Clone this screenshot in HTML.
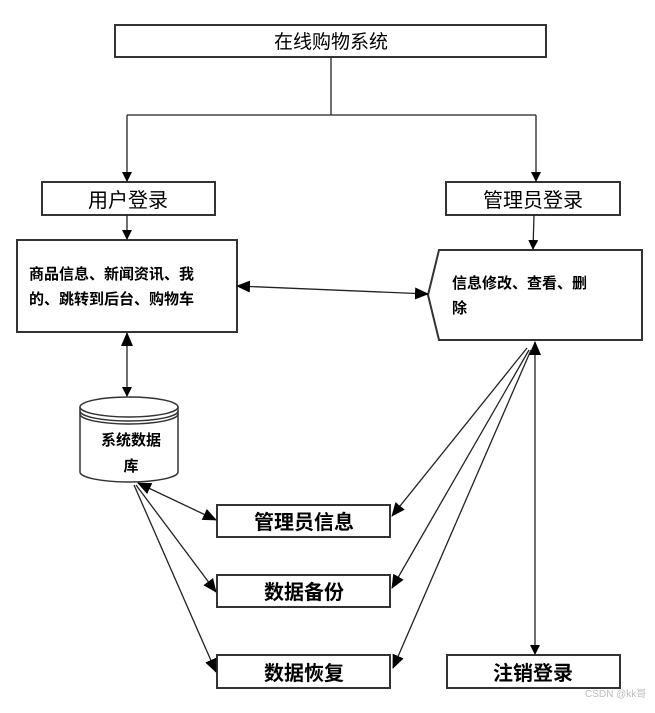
<!DOCTYPE html>
<html><head><meta charset="utf-8"><style>
body{margin:0;background:#fff}
svg text{font-family:"Liberation Sans","Noto Sans CJK SC",sans-serif;fill:#000}
</style></head><body>
<svg width="655" height="708" viewBox="0 0 655 708" xmlns="http://www.w3.org/2000/svg">
<defs>
<marker id="a" markerWidth="10" markerHeight="10" refX="9" refY="5" orient="auto-start-reverse" markerUnits="userSpaceOnUse"><path d="M0,0 L10,5 L0,10 z" fill="#000"/></marker>
<marker id="b" markerWidth="14" markerHeight="12" refX="13" refY="6" orient="auto-start-reverse" markerUnits="userSpaceOnUse"><path d="M0,0 L14,6 L0,12 z" fill="#000"/></marker>
</defs>
<g fill="#fff" stroke="#333" stroke-width="2">
<rect x="115" y="25" width="431" height="32"/>
<rect x="42" y="182" width="173" height="33"/>
<rect x="446" y="182" width="174" height="33"/>
<rect x="17" y="240" width="220" height="92"/>
<path d="M439,250 L642,250 L642,340 L439,340 L428,295 Z"/>
<rect x="217" y="505" width="173" height="32"/>
<rect x="217" y="575" width="173" height="32"/>
<rect x="217" y="655" width="173" height="33"/>
<rect x="447" y="655" width="173" height="33"/>
</g>
<g fill="#fff" stroke="#333" stroke-width="1.5">
<path d="M80,407 L80,472 A49,10 0 0 0 178,472 L178,407"/>
<ellipse cx="129" cy="407" rx="49" ry="10"/>
<path d="M80,411 A49,10 0 0 0 178,411" fill="none"/>
<path d="M80,414 A49,10 0 0 0 178,414" fill="none"/>
</g>
<g stroke="#222" stroke-width="1.3" fill="none">
<path d="M331,57 V115 M127,115 H536"/>
<line x1="127" y1="115" x2="127" y2="181" marker-end="url(#a)"/>
<line x1="536" y1="115" x2="536" y2="181" marker-end="url(#a)"/>
<line x1="127" y1="215" x2="127" y2="239" marker-end="url(#a)"/>
<line x1="534" y1="215" x2="533" y2="249" marker-end="url(#a)"/>
<line x1="237" y1="286" x2="428" y2="294" marker-start="url(#b)" marker-end="url(#b)"/>
<line x1="127" y1="333" x2="127" y2="396" marker-start="url(#b)" marker-end="url(#a)"/>
<line x1="535" y1="342" x2="535" y2="654" marker-start="url(#b)" marker-end="url(#a)"/>
<line x1="527" y1="348" x2="392" y2="516" marker-end="url(#b)"/>
<line x1="529" y1="350" x2="392" y2="588" marker-end="url(#b)"/>
<line x1="531" y1="350" x2="393" y2="668" marker-end="url(#b)"/>
<line x1="138" y1="483" x2="216" y2="520" marker-start="url(#b)" marker-end="url(#b)"/>
<line x1="136" y1="485" x2="216" y2="592" marker-end="url(#b)"/>
<line x1="134" y1="485" x2="216" y2="672" marker-end="url(#b)"/>
</g>
<text x="331" y="48" font-size="19" text-anchor="middle">在线购物系统</text>
<text x="128" y="207" font-size="20" text-anchor="middle">用户登录</text>
<text x="533" y="207" font-size="20" text-anchor="middle">管理员登录</text>
<text x="29" y="279" font-size="15" font-weight="bold">商品信息、新闻资讯、我</text>
<text x="29" y="304" font-size="15" font-weight="bold">的、跳转到后台、购物车</text>
<text x="452" y="288" font-size="15" font-weight="bold">信息修改、查看、删</text>
<text x="452" y="313" font-size="15" font-weight="bold">除</text>
<text x="131" y="445" font-size="15" font-weight="bold" text-anchor="middle">系统数据</text>
<text x="131" y="471" font-size="15" font-weight="bold" text-anchor="middle">库</text>
<text x="304" y="529" font-size="20" font-weight="bold" text-anchor="middle">管理员信息</text>
<text x="304" y="599" font-size="20" font-weight="bold" text-anchor="middle">数据备份</text>
<text x="304" y="680" font-size="20" font-weight="bold" text-anchor="middle">数据恢复</text>
<text x="533" y="680" font-size="20" font-weight="bold" text-anchor="middle">注销登录</text>
<text x="585" y="697" font-size="10" fill="#bbb" style="fill:#bbb">CSDN @kk哥</text>
</svg>
</body></html>
